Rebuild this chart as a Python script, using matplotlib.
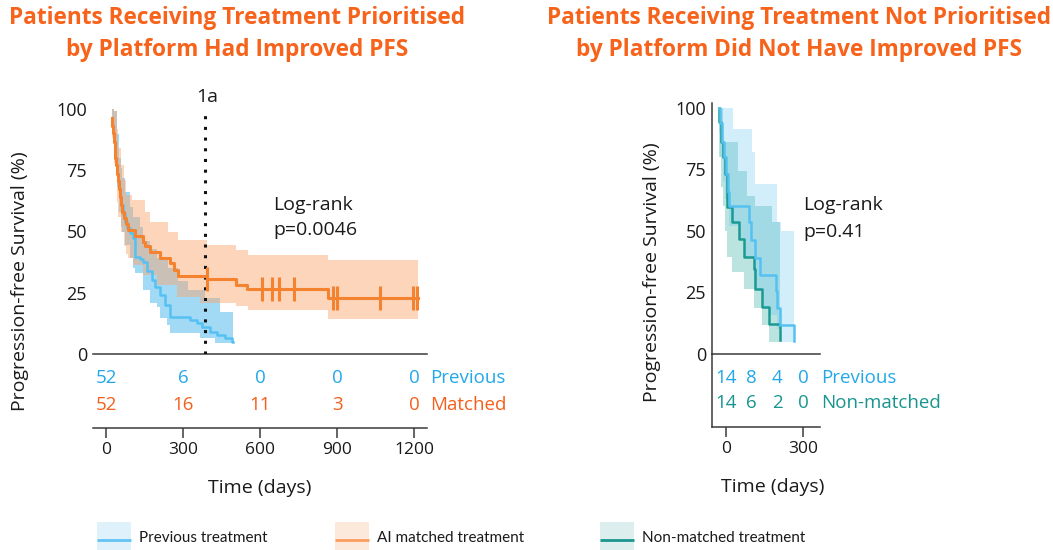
import numpy as np
import matplotlib
matplotlib.use("Agg")
import matplotlib.pyplot as plt
from matplotlib.patches import Rectangle
from matplotlib.transforms import blended_transform_factory

plt.rcParams['font.family'] = ['Open Sans', 'DejaVu Sans']

# ---------------- data ----------------
# Panel A: previous treatment vs AI matched treatment (time in days, PFS in %)
prev_a_t = [0, 3, 6, 9, 12, 15, 18, 21, 24, 27, 31, 36, 44, 52, 62, 72, 85, 91, 111, 124,
            140, 157, 170, 189, 209, 228, 306, 332, 352, 384, 411, 443, 469, 475]
prev_a_s = [96.2, 93, 90, 86.5, 83, 80, 77, 73.5, 70.5, 67.5, 64, 60.8, 57, 54, 51.5, 49.3, 47.2, 39.7, 38.6, 37.7,
            34, 30.2, 27.5, 24, 20, 15.2, 13.9, 12.5, 11.2, 9.1, 7.8, 6.4, 4.8, 4.8]
prev_a_ci_t = [0, 10, 20, 30, 36, 40, 52, 72, 85, 91, 111, 124, 150, 176, 189, 215, 221, 228, 261, 300,
               345, 365, 404, 423, 475]
prev_a_hi = [100, 99, 90, 80, 76, 72, 66, 60, 56, 56, 52, 46, 43, 39, 39, 39, 35, 35, 30, 26,
             26, 22.8, 22.8, 17.3, 17.3]
prev_a_lo = [90, 80, 68, 58, 52, 50, 44.5, 39, 35, 33, 33, 26, 21, 19, 14.6, 12, 12, 8.4, 8.4, 8.4,
             6.4, 6.4, 4.4, 4.4, 4.4]

matched_a_t = [0, 3, 6, 9, 12, 15, 18, 21, 24, 27, 31, 36, 42, 48, 56, 65, 91, 124, 130, 150,
               189, 228, 244, 261, 372, 486, 528, 847, 1198]
matched_a_s = [96.2, 93, 90, 86.5, 83, 80, 77, 73.5, 70.5, 67.5, 64, 60.8, 58, 55.4, 53, 50.6, 48.3, 45.8, 44.2, 41.8,
               39.3, 37, 34.3, 32, 30.6, 28.2, 26.4, 22.7, 22.7]
matched_a_cens = [374, 586, 625, 655, 714, 864, 882, 1048, 1176, 1194]
matched_a_ci_t = [0, 10, 20, 26, 36, 48, 57, 65, 79, 85, 124, 130, 150, 176, 221, 254, 261, 345, 371, 486,
                  533, 847, 1198]
matched_a_hi = [100, 99, 92, 84, 77, 71, 65, 65, 62.9, 62.9, 62.9, 58, 54, 54, 50, 50, 46.5, 46.5, 44.5, 42.4,
                40.4, 38.4, 38.4]
matched_a_lo = [88, 78, 62, 56, 50, 44, 41, 39, 39, 36.3, 32.2, 32.2, 32.2, 28, 28, 23.4, 23.4, 21, 21, 19.5,
                18, 14.2, 14.2]

risk_a_times = [0, 300, 600, 900, 1200]
risk_a_prev = [52, 6, 0, 0, 0]
risk_a_matched = [52, 16, 11, 3, 0]

# Panel B: previous treatment vs non-matched treatment
prev_b_t = [0, 4, 11, 19, 30, 37, 42, 118, 125, 140, 161, 222, 229, 238, 294]
prev_b_s = [100, 94, 86, 80, 73, 66, 60.3, 53.6, 46.5, 39, 32.2, 25.4, 18.6, 11.9, 5.1]
prev_b_ci_t = [0, 5, 15, 25, 40, 57, 84, 97, 128, 136, 141, 169, 201, 226, 240, 243, 294]
prev_b_hi = [100, 100, 100, 100, 100, 91.4, 91.4, 91.4, 82, 82, 69, 69, 69, 53.6, 53.6, 50, 50]
prev_b_lo = [90, 80, 70, 63, 52, 52, 46.8, 39.4, 39.4, 26.6, 26.6, 19.2, 15.8, 10, 5, 5, 5]

nonm_b_t = [0, 2, 9, 16, 23, 32, 52, 80, 97, 136, 143, 169, 195, 240]
nonm_b_s = [100, 94.2, 86, 80, 73.3, 59.8, 53.7, 46.8, 39.4, 34.7, 26.6, 19.2, 12, 5.7]
nonm_b_ci_t = [0, 9, 16, 18, 23, 32, 52, 76, 97, 109, 136, 141, 169, 195, 206, 240]
nonm_b_hi = [100, 100, 100, 86, 86, 86, 86, 74.5, 74.5, 64.4, 64.4, 60.3, 60.3, 60.3, 53.6, 53.6]
nonm_b_lo = [80, 68, 60, 60, 50, 39.4, 33.3, 33.3, 26.6, 26.6, 18.6, 18.6, 11.7, 5, 5, 5]

risk_b_times = [0, 100, 200, 300]
risk_b_prev = [14, 8, 4, 0]
risk_b_nonm = [14, 6, 2, 0]

y_ticks = [0, 25, 50, 75, 100]
one_year = 365

legend_labels = ['Previous treatment', 'AI matched treatment', 'Non-matched treatment']

# ---------------- styles ----------------
BLUE = '#55c1f2'
ORANGE = '#f5822f'
TEAL = '#1a9a92'
TXT = '#1a1a1a'
AXC = '#3a3a3a'
TITLE_C = '#f7631b'
RISK_BLUE = '#22a8e8'
RISK_ORANGE = '#f55f1b'
RISK_TEAL = '#17958e'

W, H = 1053, 550
fig = plt.figure(figsize=(W / 100, H / 100), dpi=100)


def rect(l, t, r, b):
    return [l / W, 1 - b / H, (r - l) / W, (b - t) / H]


def step_value(t, s, x):
    i = np.searchsorted(t, x, side='right') - 1
    return np.asarray(s)[i]


def km_axes(box, xlim, ylim, left_spine):
    ax = fig.add_axes(box)
    ax.set_xlim(*xlim)
    ax.set_ylim(*ylim)
    for side in ('top', 'right'):
        ax.spines[side].set_visible(False)
    ax.spines['left'].set_visible(left_spine)
    for side in ('left', 'bottom'):
        ax.spines[side].set_color(AXC)
        ax.spines[side].set_linewidth(1.1)
    ax.set_xticks([])
    ax.set_yticks(y_ticks)
    ax.tick_params(axis='y', length=0, pad=4.3, labelsize=13, labelcolor=TXT)
    ax.patch.set_alpha(0)
    return ax


def risk_axes(box, xlim, ticks, left_spine):
    ax = fig.add_axes(box)
    ax.set_xlim(*xlim)
    ax.set_ylim(0, 1)
    for side in ('top', 'right'):
        ax.spines[side].set_visible(False)
    ax.spines['left'].set_visible(left_spine)
    for side in ('left', 'bottom'):
        ax.spines[side].set_color(AXC)
        ax.spines[side].set_linewidth(1.1)
    ax.set_yticks([])
    ax.set_xticks(ticks)
    ax.tick_params(axis='x', direction='out', length=7, width=1.1, color=AXC,
                   pad=3, labelsize=12.5, labelcolor=TXT)
    ax.patch.set_alpha(0)
    return ax


def risk_rows(ax, times, rows):
    tr = blended_transform_factory(ax.transAxes, ax.transData)
    for y, counts, label, color in rows:
        for x, n in zip(times, counts):
            ax.text(x, y, str(n), ha='center', va='center', fontsize=13.5, color=color)
        ax.text(1.008, y, label, transform=tr, ha='left', va='center', fontsize=13.5,
                color=color, clip_on=False)


# ---------------- panel A ----------------
axA = km_axes(rect(93, 96.75, 427, 354), (-72.7, 1232), (0, 105), left_spine=False)
axA.fill_between(prev_a_ci_t, prev_a_lo, prev_a_hi, step='post', color='#a2daf6', lw=0, zorder=1)
axA.fill_between(matched_a_ci_t, matched_a_lo, matched_a_hi, step='post', color='#fba268',
                 alpha=0.45, lw=0, zorder=2)
axA.plot([one_year, one_year], [0, 99], color='#111111', lw=2.2, ls=(0, (1, 2.5)),
         dash_capstyle='butt', zorder=3)
axA.step(prev_a_t, prev_a_s, where='post', color=BLUE, lw=1.8, zorder=4)
axA.step(matched_a_t, matched_a_s, where='post', color=ORANGE, lw=2.2, zorder=5)
axA.plot(matched_a_cens, step_value(matched_a_t, matched_a_s, matched_a_cens), ls='none',
         marker='|', ms=17, mew=2.2, color=ORANGE, zorder=5)
axA.text(one_year + 10, 104.9, '1a', ha='center', va='center', fontsize=14, color=TXT, clip_on=False)
axA.text(630, 60.8, 'Log-rank', ha='left', va='center', fontsize=14, color=TXT)
axA.text(630, 50.6, 'p=0.0046', ha='left', va='center', fontsize=14, color=TXT)

rA = risk_axes(rect(93, 354, 427, 428), (-50.6, 1250.5), risk_a_times, left_spine=False)
risk_rows(rA, risk_a_times, [(0.676, risk_a_prev, 'Previous', RISK_BLUE),
                             (0.31, risk_a_matched, 'Matched', RISK_ORANGE)])

# ---------------- panel B ----------------
axB = km_axes(rect(712, 103, 820, 354), (-26, 394.6), (0, 102), left_spine=True)
axB.fill_between(nonm_b_ci_t, nonm_b_lo, nonm_b_hi, step='post', color='#1fa39a', alpha=0.3,
                 lw=0, zorder=1)
axB.fill_between(prev_b_ci_t, prev_b_lo, prev_b_hi, step='post', color='#5cc3f0', alpha=0.27,
                 lw=0, zorder=2)
axB.step(nonm_b_t, nonm_b_s, where='post', color=TEAL, lw=1.8, zorder=4)
axB.step(prev_b_t, prev_b_s, where='post', color=BLUE, lw=1.8, zorder=5)
axB.text(328, 60.5, 'Log-rank', ha='left', va='center', fontsize=14, color=TXT, clip_on=False)
axB.text(328, 49.6, 'p=0.41', ha='left', va='center', fontsize=14, color=TXT, clip_on=False)

rB = risk_axes(rect(712, 354, 820, 427), (-54.5, 366.2), [0, 300], left_spine=True)
risk_rows(rB, risk_b_times, [(0.67, risk_b_prev, 'Previous', RISK_BLUE),
                             (0.33, risk_b_nonm, 'Non-matched', RISK_TEAL)])

# ---------------- titles, axis labels, legend (pixel space) ----------------
ov = fig.add_axes([0, 0, 1, 1], zorder=-1)
ov.set_xlim(0, W)
ov.set_ylim(H, 0)
ov.axis('off')

ov.text(237, 34, 'Patients Receiving Treatment Prioritised\nby Platform Had Improved PFS',
        ha='center', va='center', multialignment='center', fontsize=16.3, fontweight='bold',
        color=TITLE_C, linespacing=1.5)
ov.text(799, 34, 'Patients Receiving Treatment Not Prioritised\nby Platform Did Not Have Improved PFS',
        ha='center', va='center', multialignment='center', fontsize=16.3, fontweight='bold',
        color=TITLE_C, linespacing=1.5)

for x, yc in ((20, 281), (652, 272)):
    ov.text(x, yc, 'Progression-free Survival (%)', rotation=90, ha='center', va='center',
            fontsize=14, color=TXT)
ov.text(260, 488, 'Time (days)', ha='center', va='center', fontsize=14, color=TXT)
ov.text(773, 487, 'Time (days)', ha='center', va='center', fontsize=14, color=TXT)

legend_style = [('#dff2fc', '#62c3f4', 97), ('#fde8dc', '#f99d5f', 335), ('#dcefee', '#1a968f', 600)]
for (fc, lc, x0), label in zip(legend_style, legend_labels):
    ov.add_patch(Rectangle((x0, 522), 34, 30, facecolor=fc, edgecolor='none', clip_on=False))
    ov.plot([x0, x0 + 34], [540, 540], color=lc, lw=2, solid_capstyle='butt')
    ov.text(x0 + 42, 538, label, ha='left', va='center', fontsize=11, color=TXT,
            family=['Lato', 'DejaVu Sans'])

fig.savefig('out.png', dpi=100)
